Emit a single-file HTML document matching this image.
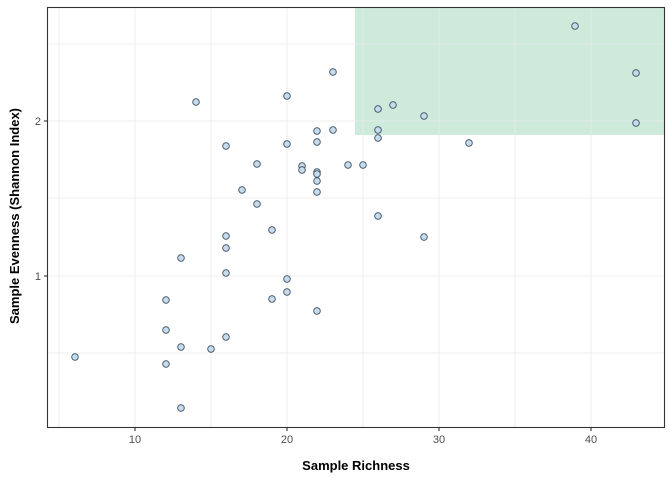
<!DOCTYPE html>
<html><head><style>body{margin:0;background:#fff}svg{display:block}</style></head><body>
<svg width="672" height="480" xmlns="http://www.w3.org/2000/svg" font-family="Liberation Sans, sans-serif">
<rect x="355" y="7" width="310" height="128" fill="#1b9e5a" fill-opacity="0.22"/>
<g stroke="#ebebeb" stroke-opacity="0.8" stroke-width="1">
<line x1="59" y1="7" x2="59" y2="427"/><line x1="135" y1="7" x2="135" y2="427"/><line x1="211" y1="7" x2="211" y2="427"/><line x1="287" y1="7" x2="287" y2="427"/><line x1="363" y1="7" x2="363" y2="427"/><line x1="439" y1="7" x2="439" y2="427"/><line x1="515" y1="7" x2="515" y2="427"/><line x1="591" y1="7" x2="591" y2="427"/>
<line x1="47" y1="44" x2="665" y2="44"/><line x1="47" y1="121" x2="665" y2="121"/><line x1="47" y1="198" x2="665" y2="198"/><line x1="47" y1="276" x2="665" y2="276"/><line x1="47" y1="353" x2="665" y2="353"/>
</g>
<g fill="#c6dbec" stroke="#3b4f62" stroke-width="0.9">
<circle cx="75" cy="357" r="3.3"/><circle cx="166" cy="300" r="3.3"/><circle cx="166" cy="330" r="3.3"/><circle cx="166" cy="364" r="3.3"/><circle cx="181" cy="408" r="3.3"/><circle cx="181" cy="347" r="3.3"/><circle cx="181" cy="258" r="3.3"/><circle cx="196" cy="102" r="3.3"/><circle cx="211" cy="349" r="3.3"/><circle cx="226" cy="337" r="3.3"/><circle cx="226" cy="273" r="3.3"/><circle cx="226" cy="248" r="3.3"/><circle cx="226" cy="236" r="3.3"/><circle cx="226" cy="146" r="3.3"/><circle cx="242" cy="190" r="3.3"/><circle cx="257" cy="164" r="3.3"/><circle cx="257" cy="204" r="3.3"/><circle cx="272" cy="299" r="3.3"/><circle cx="272" cy="230" r="3.3"/><circle cx="287" cy="96" r="3.3"/><circle cx="287" cy="144" r="3.3"/><circle cx="287" cy="279" r="3.3"/><circle cx="287" cy="292" r="3.3"/><circle cx="302" cy="166" r="3.3"/><circle cx="302" cy="170" r="3.3"/><circle cx="317" cy="131" r="3.3"/><circle cx="317" cy="142" r="3.3"/><circle cx="317" cy="172" r="3.3"/><circle cx="317" cy="174" r="3.3"/><circle cx="317" cy="181" r="3.3"/><circle cx="317" cy="192" r="3.3"/><circle cx="317" cy="311" r="3.3"/><circle cx="333" cy="72" r="3.3"/><circle cx="333" cy="130" r="3.3"/><circle cx="348" cy="165" r="3.3"/><circle cx="363" cy="165" r="3.3"/><circle cx="378" cy="109" r="3.3"/><circle cx="378" cy="130" r="3.3"/><circle cx="378" cy="138" r="3.3"/><circle cx="378" cy="216" r="3.3"/><circle cx="393" cy="105" r="3.3"/><circle cx="424" cy="116" r="3.3"/><circle cx="424" cy="237" r="3.3"/><circle cx="469" cy="143" r="3.3"/><circle cx="575" cy="26" r="3.3"/><circle cx="636" cy="73" r="3.3"/><circle cx="636" cy="123" r="3.3"/>
</g>
<rect x="47.5" y="7.5" width="617" height="420" fill="none" stroke="#333" stroke-width="1.1"/>
<g stroke="#333" stroke-width="1.1">
<line x1="44" y1="121" x2="47" y2="121"/><line x1="44" y1="276" x2="47" y2="276"/>
<line x1="135" y1="427" x2="135" y2="431"/><line x1="287" y1="427" x2="287" y2="431"/><line x1="439" y1="427" x2="439" y2="431"/><line x1="591" y1="427" x2="591" y2="431"/>
</g>
<g font-size="11" fill="#4d4d4d">
<text x="41" y="125" text-anchor="end">2</text><text x="41" y="280" text-anchor="end">1</text>
<text x="135" y="443" text-anchor="middle">10</text><text x="287" y="443" text-anchor="middle">20</text><text x="439" y="443" text-anchor="middle">30</text><text x="591" y="443" text-anchor="middle">40</text>
</g>
<text x="356" y="470" font-size="13" font-weight="bold" text-anchor="middle">Sample Richness</text>
<text transform="translate(19,216) rotate(-90)" font-size="13" font-weight="bold" text-anchor="middle">Sample Evenness (Shannon Index)</text>
</svg>
</body></html>
